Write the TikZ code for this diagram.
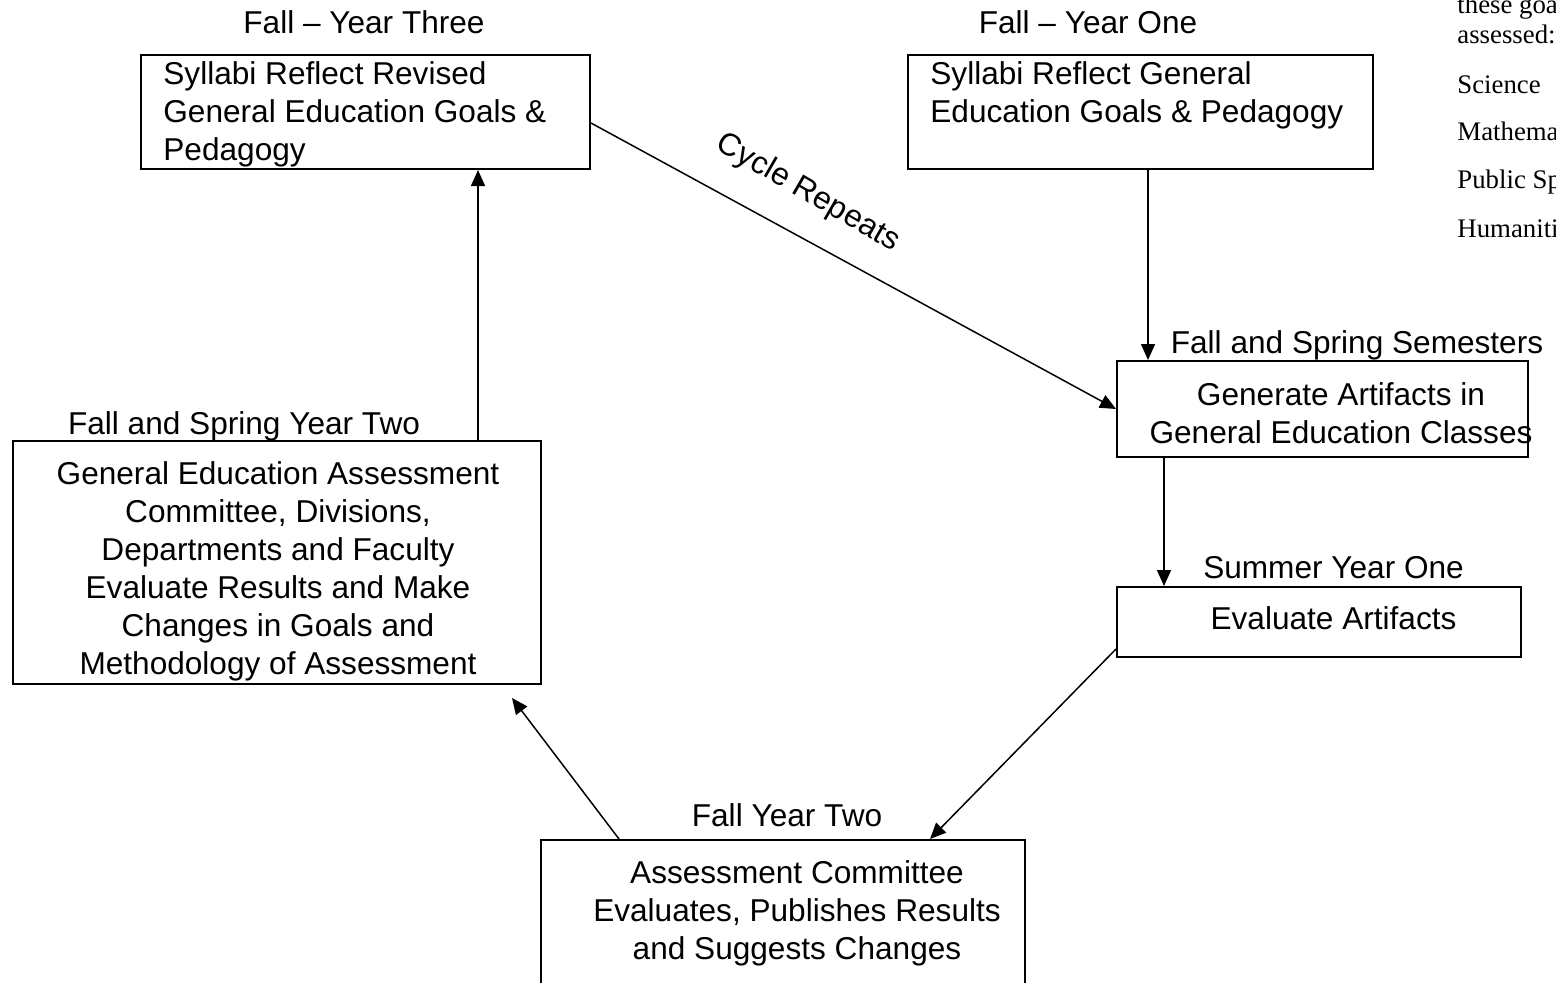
\documentclass[tikz,border=0pt]{standalone}
\usepackage{fontspec}
\setmainfont{Liberation Sans}
\newfontfamily\notefont{Liberation Serif}
\usetikzlibrary{arrows.meta}
\tikzset{
	box/.style={draw,line width=1pt,inner sep=0pt},
	txt/.style={inner sep=0pt,font=\fontsize{15.8}{19}\selectfont},
	when/.style={inner sep=0pt,anchor=base,font=\fontsize{15.8}{19}\selectfont},
	note/.style={inner sep=0pt,anchor=base west,font=\notefont\fontsize{13.4}{16}\selectfont},
	conn/.style={line width=0.75pt,-{Triangle[length=8pt,width=7pt]}}
}

\begin{document}
\begin{tikzpicture}[x=0.5pt,y=-0.5pt]
	\useasboundingbox (0,0) rectangle (1556,982);
	\clip (0,0) rectangle (1556,982);
	
	% boxes
	\node[box,minimum width=224.5pt,minimum height=57pt] at (365.5,112)(sy3){};
	\node[box,minimum width=232.5pt,minimum height=57pt] at (1140.5,112)(sy1){};
	\node[box,minimum width=205.5pt,minimum height=48pt] at (1322.5,409)(gen){};
	\node[box,minimum width=202pt,minimum height=35pt] at (1319,622)(eva){};
	\node[box,minimum width=242pt,minimum height=85pt] at (783,925)(pub){};
	\node[box,minimum width=264pt,minimum height=121.5pt] at (277,562.5)(com){};
	
	% texts in the boxes
	\node[txt,align=left,anchor=west] at (163,114)(t3){Syllabi Reflect Revised\\General Education Goals \&\\Pedagogy};
	\node[txt,align=left,anchor=west] at (930,95)(t1){Syllabi Reflect General\\Education Goals \& Pedagogy};
	\node[txt,align=center] at (1341,413)(tgen){Generate Artifacts in\\General Education Classes};
	\node[txt] at (1333.5,618)(teva){Evaluate Artifacts};
	\node[txt,align=center] at (797,913)(tpub){Assessment Committee\\Evaluates, Publishes Results\\and Suggests Changes};
	\node[txt,align=center] at (278,571)(tcom){General Education Assessment\\Committee, Divisions,\\Departments and Faculty\\Evaluate Results and Make\\Changes in Goals and\\Methodology of Assessment};
	
	% time labels
	\node[when] at (364,33)(w3){Fall -- Year Three};
	\node[when] at (1088,33)(w1){Fall -- Year One};
	\node[when] at (1357,353)(wgen){Fall and Spring Semesters};
	\node[when] at (1333.5,578)(weva){Summer Year One};
	\node[when] at (787,826)(wpub){Fall Year Two};
	\node[when] at (244,434)(wcom){Fall and Spring Year Two};
	
	\node[txt,rotate=-30] at (808,193)(cyc){Cycle Repeats};
	
	% cut off note on the right
	\node[note] at (1457,13)(n1){these goa};
	\node[note] at (1457,43)(n2){assessed:};
	\node[note] at (1457,93)(n3){Science};
	\node[note] at (1457,140)(n4){Mathema};
	\node[note] at (1457,188)(n5){Public Sp};
	\node[note] at (1457,237)(n6){Humaniti};
	
	% connectors
	\coordinate (gin) at ([xshift=16pt]gen.north west);
	\coordinate (gout) at ([xshift=24pt]gen.south west);
	\coordinate (ein) at ([xshift=73.5pt]pub.north);
	\coordinate (eout) at ([xshift=39.5pt]pub.north west);
	\coordinate (cend) at ([xshift=-15pt,yshift=-6.5pt]com.south east);
	\coordinate (ain) at ([xshift=-56.5pt]sy3.south east);
	\draw[conn] (sy1.south -| gin) -- (gin);
	\draw[conn] ([yshift=-5.5pt]sy3.east) -- (gen.west);
	\draw[conn] (gout) -- (gout |- eva.north);
	\draw[conn] ([yshift=4.5pt]eva.south west) -- (ein);
	\draw[conn] (eout) -- (cend);
	\draw[conn] (com.north -| ain) -- (ain);
\end{tikzpicture}
\end{document}
